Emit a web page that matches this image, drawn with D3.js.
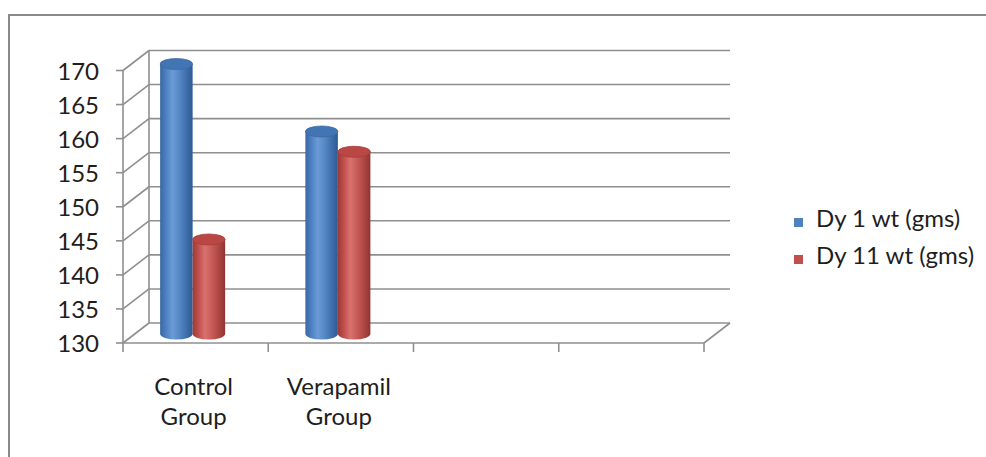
<!DOCTYPE html>
<html>
<head>
<meta charset="utf-8">
<script src="https://cdn.jsdelivr.net/npm/d3@7"></script>
<style>
  html, body { margin: 0; padding: 0; background: #fff; }
  svg { display: block; font-family: Lato, "Open Sans", sans-serif; }
</style>
</head>
<body>
<svg id="chart" width="986" height="457"></svg>
<script>
// chart data
const categories = ['Control Group', 'Verapamil Group', '', ''];
const seriesNames = ['Dy 1 wt (gms)', 'Dy 11 wt (gms)'];
const dy1Values = [170, 160];
const dy11Values = [144, 157];
const yTicks = [130, 135, 140, 145, 150, 155, 160, 165, 170];

const seriesColors = ['#4f81bd', '#c0504d'];
const gridColor = '#8f8f8f';
const textColor = '#1e1e1e';
const fontSize = 24;
const depth = { dx: 26, dy: -20 };

const svg = d3.select('#chart');

// outer frame (left + top only)
svg.append('path')
  .attr('d', 'M9,457V15H986')
  .attr('fill', 'none')
  .attr('stroke', '#8a8a8a')
  .attr('stroke-width', 2);

const yFront = d3.scaleLinear().domain([130, 170]).range([343, 70.5]);
const yBar = d3.scaleLinear().domain([130, 170]).range([334, 64]);
const x0 = d3.scaleBand().domain(d3.range(categories.length)).range([123, 704]);
const x1 = d3.scaleBand().domain(seriesNames).range([0, 65]);

const xLeft = x0.range()[0];
const xRight = x0.range()[1];

// gradients for cylinders
const defs = svg.append('defs');
const shades = [
  ['#3a679f', '#4d80c2', '#6b9bd6', '#5587c6', '#3a6aa6', '#2f5a90'],
  ['#9c3a37', '#c04e4b', '#d87370', '#c65a56', '#a9423f', '#8e3431'],
];
shades.forEach((stops, i) => {
  const g = defs.append('linearGradient')
    .attr('id', `cyl${i}`)
    .attr('x1', '0%').attr('x2', '100%')
    .attr('y1', '0%').attr('y2', '0%');
  const offs = [0, 0.18, 0.38, 0.6, 0.85, 1];
  stops.forEach((c, k) => g.append('stop').attr('offset', offs[k]).attr('stop-color', c));
});

const walls = svg.append('g')
  .attr('fill', 'none')
  .attr('stroke', gridColor)
  .attr('stroke-width', 1.6);

// back wall grid lines
walls.selectAll('line.grid')
  .data(yTicks)
  .enter()
  .append('line')
  .attr('class', 'grid')
  .attr('x1', xLeft + depth.dx)
  .attr('x2', xRight + depth.dx)
  .attr('y1', d => yFront(d) + depth.dy)
  .attr('y2', d => yFront(d) + depth.dy);

// side wall diagonals
walls.selectAll('line.side')
  .data(yTicks)
  .enter()
  .append('line')
  .attr('class', 'side')
  .attr('x1', xLeft)
  .attr('x2', xLeft + depth.dx)
  .attr('y1', d => yFront(d))
  .attr('y2', d => yFront(d) + depth.dy);

// back corner vertical
walls.append('line')
  .attr('x1', xLeft + depth.dx).attr('x2', xLeft + depth.dx)
  .attr('y1', yFront(170) + depth.dy).attr('y2', yFront(130) + depth.dy);

// floor right edge
walls.append('line')
  .attr('x1', xRight).attr('x2', xRight + depth.dx)
  .attr('y1', yFront(130)).attr('y2', yFront(130) + depth.dy);

// cylinders
const bars = [];
categories.forEach((c, i) => {
  if (i < dy1Values.length) {
    bars.push({ cat: i, s: 0, v: dy1Values[i] });
    bars.push({ cat: i, s: 1, v: dy11Values[i] });
  }
});

const rx = x1.bandwidth() / 2;
const ry = 5.5;
const cx = d => x0(d.cat) + x0.bandwidth() / 2 - 35.5 + x1(seriesNames[d.s]) + rx;

const cyl = svg.append('g')
  .selectAll('g')
  .data(bars)
  .enter()
  .append('g');

cyl.append('path')
  .attr('d', d => {
    const x = cx(d), yt = yBar(d.v), yb = yBar(130);
    return `M${x - rx},${yt}V${yb}A${rx},${ry} 0 0 0 ${x + rx},${yb}V${yt}Z`;
  })
  .attr('fill', d => `url(#cyl${d.s})`);

cyl.append('ellipse')
  .attr('cx', cx)
  .attr('cy', d => yBar(d.v))
  .attr('rx', rx)
  .attr('ry', ry)
  .attr('fill', d => (d.s === 0 ? '#4275b4' : '#b94744'))
  .attr('stroke', d => (d.s === 0 ? '#3c6aa3' : '#a63f3c'))
  .attr('stroke-width', 0.8);

// front axes
const axes = svg.append('g')
  .attr('stroke', gridColor)
  .attr('stroke-width', 1.6)
  .attr('fill', 'none');

axes.append('line')
  .attr('x1', xLeft).attr('x2', xLeft)
  .attr('y1', yFront(170)).attr('y2', yFront(130));

axes.selectAll('line.ytick')
  .data(yTicks)
  .enter()
  .append('line')
  .attr('class', 'ytick')
  .attr('x1', xLeft - 7).attr('x2', xLeft)
  .attr('y1', d => yFront(d)).attr('y2', d => yFront(d));

axes.append('line')
  .attr('x1', xLeft).attr('x2', xRight)
  .attr('y1', yFront(130)).attr('y2', yFront(130));

axes.selectAll('line.xtick')
  .data(d3.range(categories.length + 1))
  .enter()
  .append('line')
  .attr('class', 'xtick')
  .attr('x1', i => xLeft + i * x0.step())
  .attr('x2', i => xLeft + i * x0.step())
  .attr('y1', yFront(130)).attr('y2', yFront(130) + 9);

// y labels
svg.append('g')
  .selectAll('text')
  .data(yTicks)
  .enter()
  .append('text')
  .attr('x', 99)
  .attr('y', d => yFront(d) + 9)
  .attr('text-anchor', 'end')
  .attr('font-size', fontSize)
  .attr('fill', textColor)
  .text(d => d);

// category labels
const catLabels = svg.append('g')
  .selectAll('text')
  .data(categories.map((c, i) => ({ c, i })).filter(d => d.c))
  .enter()
  .append('text')
  .attr('text-anchor', 'middle')
  .attr('font-size', fontSize)
  .attr('fill', textColor);

catLabels.selectAll('tspan')
  .data(d => d.c.split(' ').map(w => ({ w, i: d.i })))
  .enter()
  .append('tspan')
  .attr('x', d => x0(d.i) + x0.bandwidth() / 2 - 2)
  .attr('y', (d, k) => 395 + k * 30)
  .text(d => d.w);

// legend
const legend = svg.append('g')
  .selectAll('g')
  .data(seriesNames)
  .enter()
  .append('g')
  .attr('transform', (d, i) => `translate(794,${218 + i * 37})`);

legend.append('rect')
  .attr('width', 9)
  .attr('height', 9)
  .attr('fill', (d, i) => seriesColors[i]);

legend.append('text')
  .attr('x', 22)
  .attr('y', 9)
  .attr('font-size', fontSize)
  .attr('fill', textColor)
  .text(d => d);
</script>
</body>
</html>
